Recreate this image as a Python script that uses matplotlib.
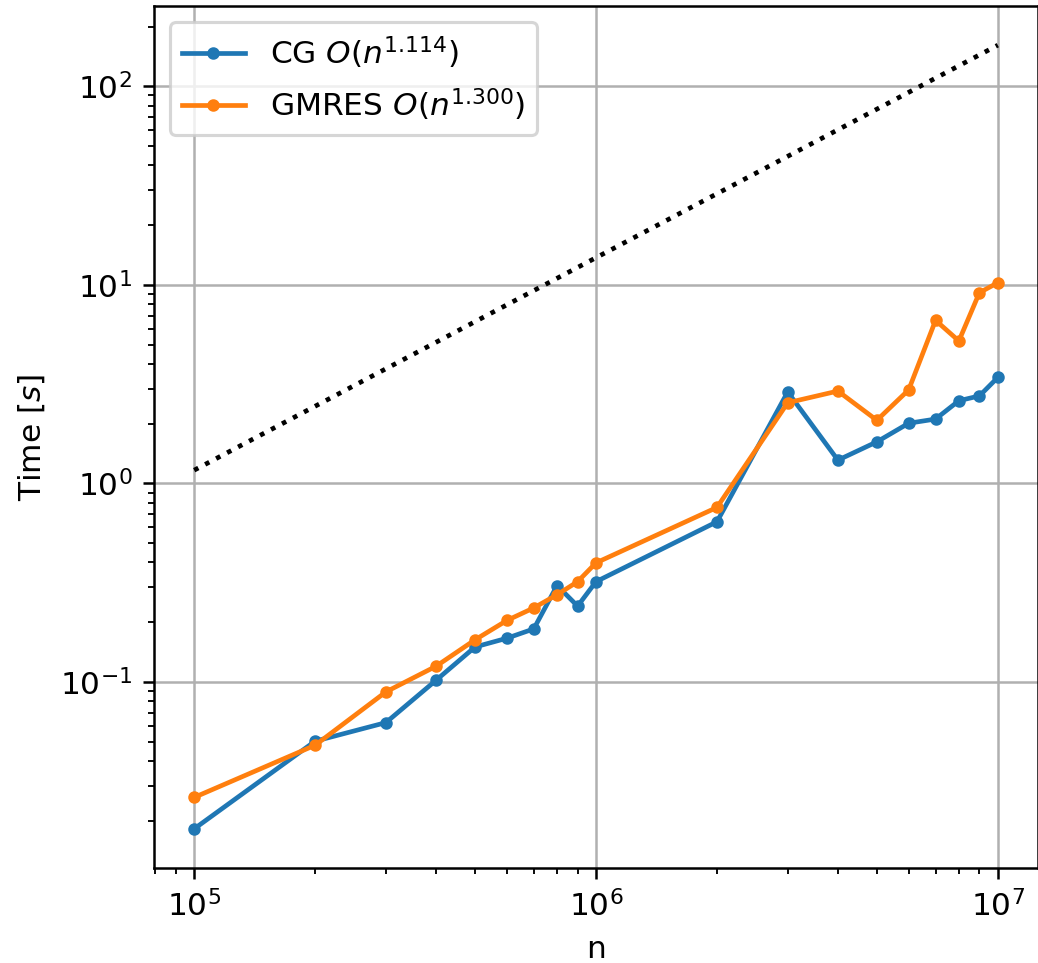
import numpy as np
import matplotlib
matplotlib.use("Agg")
import matplotlib.pyplot as plt

# problem sizes and solve times
n = [1e5, 2e5, 3e5, 4e5, 5e5, 6e5, 7e5, 8e5, 9e5, 1e6,
     2e6, 3e6, 4e6, 5e6, 6e6, 7e6, 8e6, 9e6, 1e7]
cg_time = [0.0182, 0.0503, 0.0624, 0.102, 0.150, 0.166, 0.185, 0.306, 0.241, 0.320,
           0.641, 2.89, 1.31, 1.62, 2.01, 2.11, 2.61, 2.76, 3.42]
gmres_time = [0.0262, 0.0480, 0.0891, 0.120, 0.163, 0.204, 0.236, 0.275, 0.320, 0.398,
              0.757, 2.55, 2.92, 2.08, 2.96, 6.63, 5.22, 9.14, 10.26]

# reference slope line
ref_n = [1e5, 1e7]
ref_time = [1.166, 161.3]

dpi = 225
fig = plt.figure(figsize=(1038 / dpi, 963 / dpi), dpi=dpi)
ax = fig.add_axes([154 / 1038, 95 / 963, 884 / 1038, 862 / 963])

ax.loglog(n, cg_time, '.-', label=r"CG $O(n^{1.114})$")
ax.loglog(n, gmres_time, '.-', label=r"GMRES $O(n^{1.300})$")
ax.loglog(ref_n, ref_time, 'k:')

ax.set_xlabel("n")
ax.set_ylabel(r"Time [$s$]")
ax.grid(True)
ax.legend(loc="upper left")

fig.savefig("out.png", dpi=dpi)
